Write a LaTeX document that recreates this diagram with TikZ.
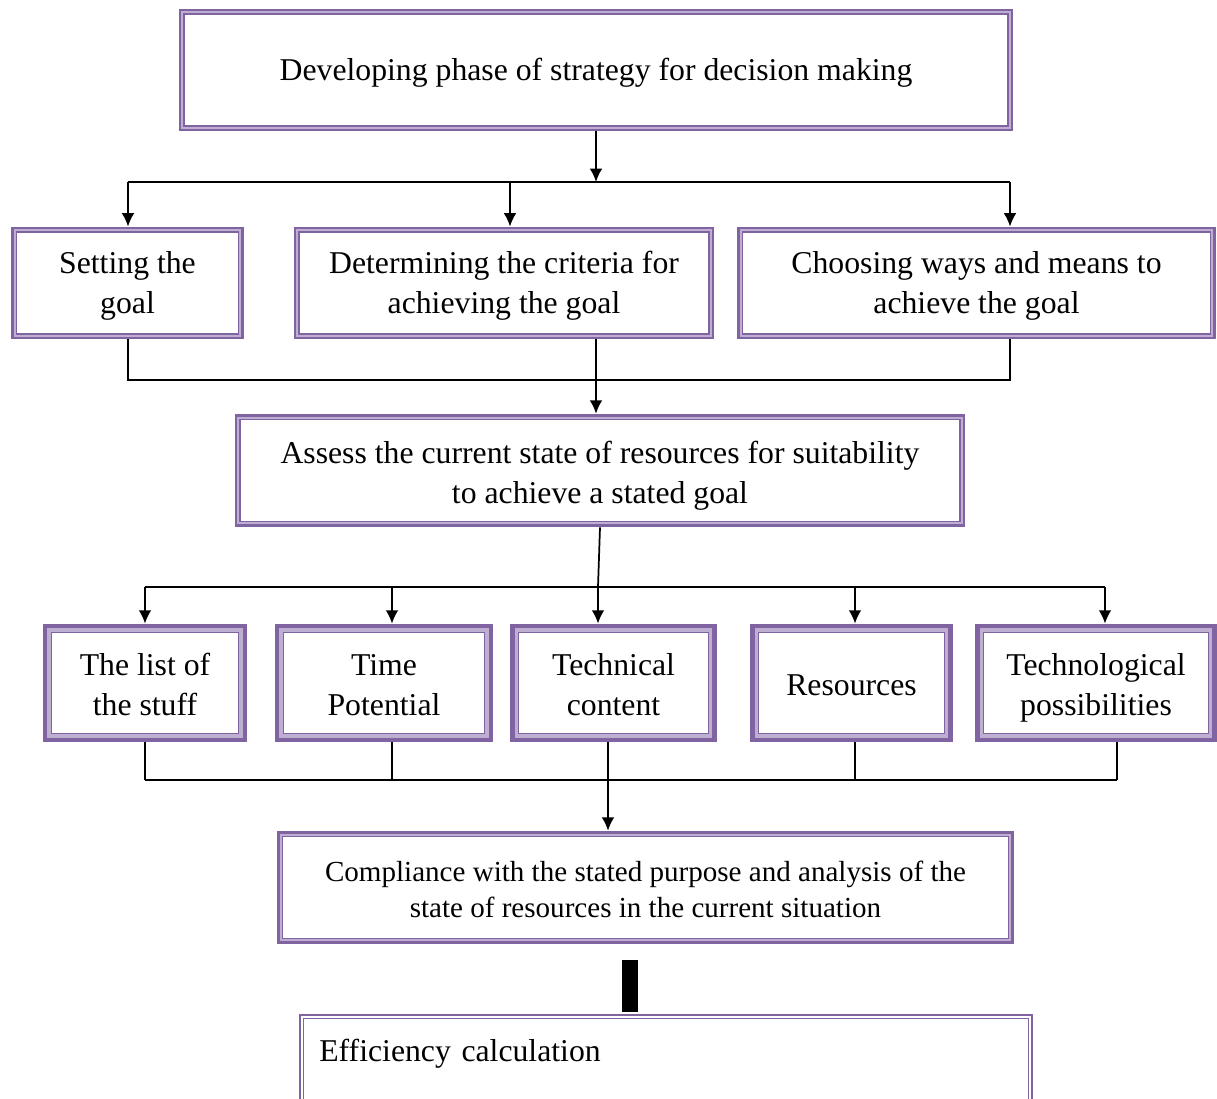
\documentclass[tikz,border=0pt]{standalone}
\usepackage{fontspec}
\setmainfont{Liberation Serif}
\usetikzlibrary{arrows.meta}
\definecolor{boxpurple}{RGB}{128,100,162}
\definecolor{boxlight}{RGB}{190,175,210}
\tikzset{
  phase/.style={draw=boxpurple, line width=2.2pt, fill=boxlight, align=center, inner sep=0pt,
    font=\fontsize{23.8}{30}\selectfont, text height=51pt, text depth=6pt,
    path picture={\draw[boxpurple, line width=0.8pt, fill=white]
      ([shift={(3pt,-3pt)}]path picture bounding box.north west) rectangle
      ([shift={(-3pt,3pt)}]path picture bounding box.south east);}},
  factor/.style={phase, line width=3.6pt, text height=54pt,
    path picture={\draw[boxpurple, line width=0.8pt, fill=white]
      ([shift={(4.6pt,-4.6pt)}]path picture bounding box.north west) rectangle
      ([shift={(-4.6pt,4.6pt)}]path picture bounding box.south east);}},
  result/.style={phase, line width=1pt, fill=white, align=left,
    path picture={\draw[boxpurple, line width=0.8pt]
      ([shift={(2.4pt,-2.4pt)}]path picture bounding box.north west) rectangle
      ([shift={(-2.4pt,2.4pt)}]path picture bounding box.south east);}},
  link/.style={line width=1.3pt},
  arr/.style={link, -{Latex[length=10pt,width=9.5pt]}}
}
\begin{document}
\begin{tikzpicture}[x=0.75pt, y=-0.75pt]
\useasboundingbox (0,0) rectangle (1217,1099);

% strategy and goal
\node[phase, minimum width=624pt, minimum height=90pt, text height=21.5pt] (dev) at (596,70)
  {Developing phase of strategy for decision making};
\node[phase, minimum width=173pt, minimum height=82.5pt] (set) at (127.5,283) {Setting the\\goal};
\node[phase, minimum width=313.5pt, minimum height=82.5pt] (det) at (504,283)
  {Determining the criteria for\\achieving the goal};
\node[phase, minimum width=357.5pt, minimum height=82.5pt] (cho) at (976.5,283)
  {Choosing ways and means to\\achieve the goal};
\node[phase, minimum width=546pt, minimum height=83pt, text height=56pt] (ass) at (600,470.5)
  {Assess the current state of resources for suitability\\to achieve a stated goal};

% resources
\node[factor, minimum width=150pt, minimum height=85.5pt] (lst) at (145,683) {The list of\\the stuff};
\node[factor, minimum width=160.5pt, minimum height=85.5pt] (tim) at (384,683) {Time\\Potential};
\node[factor, minimum width=152pt, minimum height=85.5pt] (tec) at (613.5,683) {Technical\\content};
\node[factor, minimum width=149pt, minimum height=85.5pt, text height=18.75pt, text depth=0pt]
  (res) at (851.5,683) {Resources};
\node[factor, minimum width=178pt, minimum height=85.5pt] (pos) at (1096,683)
  {Technological\\possibilities};
\node[phase, minimum width=550pt, minimum height=83pt, font=\fontsize{21.8}{27}\selectfont,
  text height=50.25pt] (com) at (645.5,887.5)
  {Compliance with the stated purpose and analysis of the\\state of resources in the current situation};
\node[result, minimum width=549pt, minimum height=72pt, text width=520pt,
  text height=14pt, text depth=17pt] (eff) at (666,1063) {Efficiency calculation};

% connectors
\coordinate (busA) at (596,182);
\draw[arr] (dev) -- (busA);
\draw[link] (128,182) coordinate (busAl) -- (1010,182) coordinate (busAr);
\foreach \n/\x in {set/128, det/510, cho/1010} {
  \coordinate (t\n) at (\x,182);
  \draw[arr] (t\n) -- (t\n |- \n.north);
}
\coordinate (busB) at (596,380);
\draw[link] (set.south -| 128,0) |- (busB) -| (cho.south -| 1010,0);
\draw[arr] (busB |- det.south) -- (busB |- ass.north);

\coordinate (busC) at (598,587);
\draw[link] (ass.south) -- (busC);
\draw[link] (145,587) coordinate (busCl) -- (1105,587) coordinate (busCr);
\foreach \n/\x in {lst/145, tim/392, tec/598, res/855, pos/1105} {
  \coordinate (u\n) at (\x,587);
  \draw[arr] (u\n) -- (u\n |- \n.north);
}
\coordinate (busD) at (608,780);
\foreach \n/\x in {lst/145, tim/392, res/855, pos/1117} {
  \coordinate (d\n) at (\x,780);
  \draw[link] (d\n |- \n.south) -- (d\n);
}
\draw[link] (dlst) -- (dpos);
\draw[arr] (busD |- tec.south) -- (busD |- com.north);

\coordinate (barT) at (630,960);
\coordinate (barB) at (630,1012);
\draw[line width=12pt] (barT) -- (barB);
\end{tikzpicture}
\end{document}
